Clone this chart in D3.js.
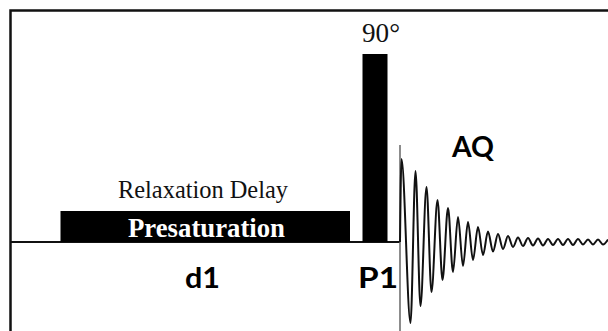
<!DOCTYPE html>
<html>
<head>
<meta charset="utf-8">
<script src="https://cdn.jsdelivr.net/npm/d3@7"></script>
<style>
  body { margin: 0; background: #fff; }
  svg { display: block; }
</style>
</head>
<body>
<svg id="seq" width="608" height="331"></svg>
<script>
// pulse blocks: [start, end] in time units, height in amplitude units
var blockNames = ['Presaturation', '90° pulse'];
var blockStart = [50.5, 352.5];
var blockEnd = [340, 377.5];
var blockHeight = [31, 188];

// FID extremes (time, signed amplitude)
var fidTime = [390, 391.5, 400.5, 405.5, 410.5, 416.5, 421.5, 427.5, 432.5, 438, 443, 448, 453,
  458, 463, 468, 473, 478, 483, 488, 493, 498, 503, 508, 513, 518, 523, 528, 533, 538, 543,
  548, 553, 558, 563, 568, 573, 578, 583, 588, 593, 598];
var fidAmp = [0, 83, -81, 71, -64, 55, -50, 42, -38, 34, -30, 25, -24, 20, -18, 15, -13, 10.5, -9.5,
  8, -7, 6, -5, 4.5, -4, 4, -3.5, 3.5, -3.5, 3, -3, 3, -3, 3, -3, 3, -2.5, 2.5, -2.5, 2.5, -2.5, 2.5];

var svg = d3.select('#seq'),
  width = +svg.attr('width'),
  height = +svg.attr('height');

var x = d3.scaleLinear().domain([0, 598]).range([10, 608]);
var y = d3.scaleLinear().domain([0, 100]).range([242, 142]);

// frame (top and left only)
svg.append('path')
  .attr('d', 'M10.5,' + height + 'V10.5H' + width)
  .attr('fill', 'none')
  .attr('stroke', '#111')
  .attr('stroke-width', 2.5);

// baseline up to acquisition start
svg.append('line')
  .attr('x1', x(0)).attr('x2', x(390))
  .attr('y1', y(0)).attr('y2', y(0))
  .attr('stroke', '#111')
  .attr('stroke-width', 2);

svg.selectAll('.block')
  .data(blockNames)
  .enter().append('rect')
  .attr('class', 'block')
  .attr('x', (d, i) => x(blockStart[i]))
  .attr('width', (d, i) => x(blockEnd[i]) - x(blockStart[i]))
  .attr('y', (d, i) => y(blockHeight[i]))
  .attr('height', (d, i) => y(0) - y(blockHeight[i]))
  .attr('fill', '#000');

// acquisition marker
svg.append('line')
  .attr('x1', x(390)).attr('x2', x(390))
  .attr('y1', y(97)).attr('y2', height)
  .attr('stroke', '#666')
  .attr('stroke-width', 1.5);

var fid = d3.line()
  .x((d, i) => x(fidTime[i]))
  .y(d => y(d))
  .curve(d3.curveMonotoneX);

svg.append('path')
  .attr('d', fid(fidAmp))
  .attr('fill', 'none')
  .attr('stroke', '#111')
  .attr('stroke-width', 2);

// labels
var serif = '"Liberation Serif", "Times New Roman", serif';
var sans = 'Lato, "Open Sans", sans-serif';

svg.append('text')
  .attr('x', 362).attr('y', 42)
  .attr('textLength', 38).attr('lengthAdjust', 'spacingAndGlyphs')
  .style('font-family', serif).style('font-size', '27px')
  .attr('fill', '#111')
  .text('90°');

svg.append('text')
  .attr('x', 118).attr('y', 198)
  .attr('textLength', 170).attr('lengthAdjust', 'spacingAndGlyphs')
  .style('font-family', serif).style('font-size', '26px')
  .attr('fill', '#111')
  .text('Relaxation Delay');

svg.append('text')
  .attr('x', 128).attr('y', 237)
  .attr('textLength', 157).attr('lengthAdjust', 'spacingAndGlyphs')
  .style('font-family', serif).style('font-size', '27px').style('font-weight', 'bold')
  .attr('fill', '#fff')
  .text('Presaturation');

var labels = [
  { t: 'd1', x: 185, y: 288, w: 35 },
  { t: 'P1', x: 358, y: 288, w: 40 },
  { t: 'AQ', x: 452, y: 157, w: 42 }
];

svg.selectAll('.lab')
  .data(labels)
  .enter().append('text')
  .attr('class', 'lab')
  .attr('x', d => d.x).attr('y', d => d.y)
  .attr('textLength', d => d.w)
  .attr('lengthAdjust', 'spacingAndGlyphs')
  .style('font-family', sans).style('font-size', '28px').style('font-weight', 'bold')
  .attr('fill', '#000')
  .text(d => d.t);
</script>
</body>
</html>
